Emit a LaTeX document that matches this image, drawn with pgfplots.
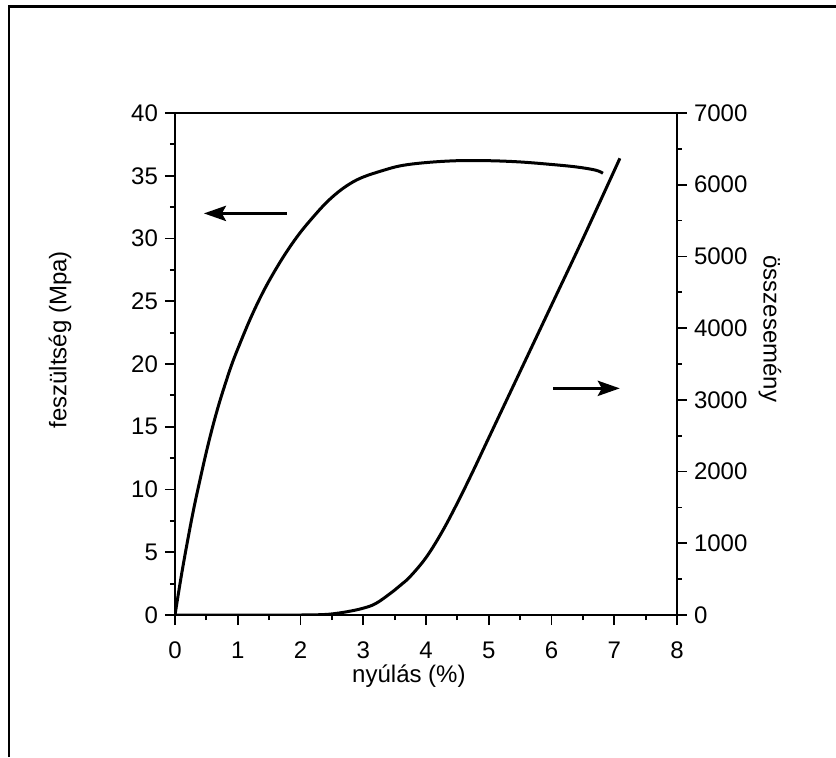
\documentclass[border=0pt]{standalone}
\usepackage{fontspec}
\setmainfont{Liberation Sans}
\usepackage{pgfplots}
\pgfplotsset{compat=1.18}
\usetikzlibrary{arrows.meta}
\begin{document}
\begin{tikzpicture}[font=\fontsize{12}{14.4}\selectfont]
\path[use as bounding box] (-87.5pt,-71pt) rectangle (330.5pt,307.5pt);
\draw[line width=1.35pt] (-83pt,-71pt) -- (-83pt,304.1pt) -- (330.5pt,304.1pt);
\pgfplotsset{every axis/.append style={
    scale only axis, width=251pt, height=251pt,
    at={(0,0)}, anchor=south west,
    axis line style={line width=0.9pt},
    tick style={line width=0.9pt, black},
    major tick length=5pt, minor tick length=2.5pt,
    tick align=outside,
    /pgf/number format/assume math mode=true,
    /pgf/number format/1000 sep={},
    scaled ticks=false,
    xmin=0, xmax=8,
}}
\begin{axis}[
    ymin=0, ymax=40,
    xtick={0,...,8}, minor x tick num=1,
    ytick={0,5,...,40}, minor y tick num=1,
    xtick pos=lower, ytick pos=left,
    xticklabel style={yshift=-5pt},
    xlabel={nyúlás (\%)}, ylabel={feszültség (Mpa)},
    every axis x label/.style={at={(axis description cs:0.466,-0.122)}, anchor=center},
    every axis y label/.style={at={(axis description cs:-0.229,0.548)}, anchor=center, rotate=90},
]
\addplot[line width=1.5pt, smooth, tension=0.6] coordinates {
(0,0) (0.1,3.1) (0.2,5.9) (0.3,8.5) (0.4,10.8) (0.5,13.0) (0.6,15.0)
(0.7,16.8) (0.8,18.4) (0.9,19.9) (1.0,21.2) (1.2,23.6) (1.4,25.7)
(1.6,27.5) (1.8,29.1) (2.0,30.5) (2.2,31.7) (2.4,32.8) (2.6,33.7)
(2.8,34.4) (3.0,34.9) (3.3,35.4) (3.6,35.8) (4.0,36.05) (4.5,36.2)
(5.0,36.2) (5.5,36.1) (6.0,35.9) (6.4,35.7) (6.7,35.45) (6.82,35.2)
};
\draw[line width=1.8pt, -{Stealth[length=11pt,width=7.5pt,inset=2pt]}] (axis cs:1.78,32) -- (axis cs:0.46,32);
\draw[line width=1.8pt, -{Stealth[length=11pt,width=7.5pt,inset=2pt]}] (axis cs:6.03,18.06) -- (axis cs:7.09,18.06);
\end{axis}
\begin{axis}[
    ymin=0, ymax=7000,
    axis x line=none, axis y line*=right,
    ytick={0,1000,...,7000}, minor y tick num=1,
    ylabel={összesemény},
    every axis y label/.style={at={(axis description cs:1.185,0.57)}, anchor=center, rotate=-90},
]
\addplot[line width=1.5pt, smooth, tension=0.6] coordinates {
(0,0) (1.0,0) (2.0,0) (2.3,4) (2.5,15) (2.75,47) (3.0,95) (3.2,160)
(3.43,300) (3.6,420) (3.75,538) (4.0,800) (4.25,1150) (4.5,1562)
(4.75,2007) (5.0,2470) (5.5,3395) (6.0,4320) (6.5,5245) (7.09,6368)
};
\end{axis}
\end{tikzpicture}
\end{document}
